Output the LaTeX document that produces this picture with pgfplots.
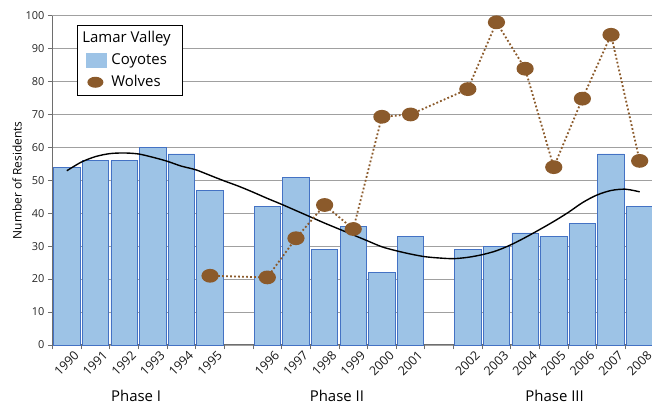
\documentclass[border=0pt]{standalone}
\usepackage{fontspec}
\setmainfont{Open Sans}
\usepackage{pgfplots}
\pgfplotsset{compat=1.18}
\definecolor{barfill}{HTML}{9DC3E6}
\definecolor{baredge}{HTML}{4472C4}
\definecolor{wolf}{HTML}{8B5A2B}
\definecolor{gridgray}{HTML}{A0A0A0}
\definecolor{axisgray}{HTML}{6E6E6E}

\begin{document}
\begin{tikzpicture}
\begin{axis}[
  width=601.5bp, height=329.2bp, scale only axis,
  xmin=-0.5, xmax=20.5, ymin=0, ymax=100,
  axis x line*=bottom, axis y line*=left,
  axis line style={axisgray, line width=0.9pt},
  ytick={0,10,...,100},
  ymajorgrids, major grid style={gridgray, line width=0.8pt},
  tick align=outside, major tick length=4.5bp,
  tick style={axisgray, line width=0.8pt},
  xtick={-0.5,0.5,...,20.5}, xticklabel=\empty,
  extra x ticks={0,1,2,3,4,5,7,8,9,10,11,12,14,15,16,17,18,19,20},
  extra x tick labels={1990,1991,1992,1993,1994,1995,1996,1997,1998,1999,2000,2001,2002,2003,2004,2005,2006,2007,2008},
  extra x tick style={major tick length=0pt,
    tick label style={xshift=6.5bp, yshift=-4.5bp, rotate=45, anchor=north east, inner sep=0pt,
      font=\fontsize{12.5}{14}\selectfont, text=black!90}},
  /pgf/number format/assume math mode=true,
  tick label style={font=\fontsize{11}{13}\selectfont, text=black!85},
  ylabel={Number of Residents},
  ylabel style={font=\fontsize{12}{14}\selectfont, at={(axis description cs:-0.059,0.5)}, anchor=center},
  legend style={at={(0.040,0.972)}, anchor=north west, draw=black, line width=0.7pt,
    font=\fontsize{15}{17}\selectfont, row sep=0bp, column sep=2bp, inner xsep=9.5bp, inner ysep=2bp,
    nodes={text height=12bp, text depth=4bp, inner ysep=3bp}},
  legend cell align=left,
  clip=false,
]
\coordinate (bl) at (rel axis cs:0,0);
\coordinate (tr) at (rel axis cs:1,1);

\addlegendimage{empty legend}
\addlegendentry{\hspace*{-29bp}Lamar Valley}

\addplot[ybar, bar width=0.92, fill=barfill, draw=baredge, line width=0.8pt,
  legend image code/.code={\fill[barfill, draw=none] (0bp,-7.5bp) rectangle (21bp,7.5bp);}]
  coordinates {(0,54) (1,56) (2,56) (3,60) (4,58) (5,47)
    (7,42) (8,51) (9,29) (10,36) (11,22) (12,33)
    (14,29) (15,30) (16,34) (17,33) (18,37) (19,58) (20,42)};
\addlegendentry{Coyotes}

\addplot[black, line width=1.4pt, smooth, forget plot] coordinates {
  (0,52.9) (0.5,55.5) (1,57.2) (1.5,58.1) (2,58.3) (2.5,58.0) (3,57.0) (3.5,55.8)
  (4,54.3) (4.5,53.2) (5,51.5) (5.5,49.8) (6,48.2) (6.5,46.4) (7,44.5) (7.5,42.7)
  (8,40.8) (8.5,38.9) (9,37.0) (9.5,35.2) (10,33.4) (10.5,31.6) (11,29.8) (11.5,28.6)
  (12,27.6) (12.5,26.8) (13,26.4) (13.5,26.2) (14,26.6) (14.5,27.4) (15,28.6) (15.5,30.4)
  (16,32.6) (16.5,35.0) (17,37.5) (17.5,40.2) (18,43.2) (18.5,45.5) (19,46.9) (19.5,47.3)
  (20,46.5)};

\addplot[wolf, line width=1.8bp, dash pattern=on 1.8bp off 2.2bp,
  mark=*, mark size=6bp, mark options={solid, xscale=1.28, fill=wolf, draw=none},
  legend image code/.code={\fill[wolf, draw=none, solid] (9bp,0bp) ellipse (8bp and 5.5bp);}]
  coordinates {(5,21) (7,20.5) (8,32.4) (9,42.5) (10,35.2) (11,69.3) (12,70)
    (14,77.7) (15,98) (16,83.9) (17,54) (18,74.8) (19,94.2) (20,55.9)};
\addlegendentry{Wolves}

\node[anchor=base, font=\fontsize{15}{17}\selectfont] at (axis cs:2.42,0) [yshift=-56.8bp] {Phase I};
\node[anchor=base, font=\fontsize{15}{17}\selectfont] at (axis cs:9.43,0) [yshift=-56.8bp] {Phase II};
\node[anchor=base, font=\fontsize{15}{17}\selectfont] at (axis cs:17.03,0) [yshift=-56.8bp] {Phase III};
\end{axis}
\pgfresetboundingbox
\path[use as bounding box] ([xshift=-52.5bp,yshift=-60.1bp]bl) rectangle ([xshift=-2bp,yshift=15.7bp]tr);
\end{tikzpicture}
\end{document}
